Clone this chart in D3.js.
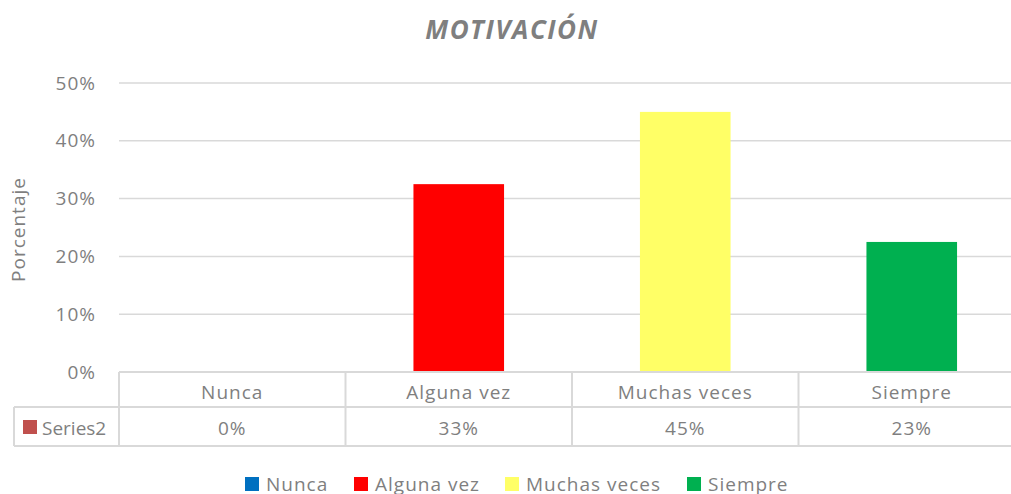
<!DOCTYPE html>
<html>
<head>
<meta charset="utf-8">
<script src="https://cdn.jsdelivr.net/npm/d3@7"></script>
<style>
  body { margin: 0; background: #fff; }
  svg text { font-family: "Open Sans", sans-serif; fill: #7f7f7f; font-size: 19px; letter-spacing: 1px; }
</style>
</head>
<body>
<svg id="chart" width="1011" height="494"></svg>
<script>
// data
var categories = ['Nunca', 'Alguna vez', 'Muchas veces', 'Siempre'];
var values = [0, 0.325, 0.45, 0.225];
var barColors = ['#0070c0', '#ff0000', '#ffff66', '#00b050'];
var yTicks = [0, 0.1, 0.2, 0.3, 0.4, 0.5];
var seriesName = 'Series2';
var titleText = 'MOTIVACIÓN';
var yTitle = 'Porcentaje';

var svg = d3.select('#chart');
var gridColor = '#d9d9d9';

var plot = { left: 119, right: 1025, top: 83, bottom: 372 };
var rowMid = 407, rowBottom = 446, tableLeft = 14;

var y = d3.scaleLinear().domain([0, 0.5]).range([plot.bottom, plot.top]);
var x = d3.scaleBand().domain(categories).range([plot.left, plot.right])
  .paddingInner(0.6).paddingOuter(0.3);
// columns of the data table
var xCol = d3.scaleBand().domain(categories).range([plot.left, plot.right]);

// title
svg.append('text')
  .attr('x', 512).attr('y', 39)
  .attr('text-anchor', 'middle')
  .style('font-size', '26px')
  .style('letter-spacing', '1.5px')
  .style('font-weight', 'bold')
  .style('font-style', 'italic')
  .text(titleText);

// gridlines
svg.append('g').selectAll('line')
  .data(yTicks.filter(function(d){ return d > 0; }))
  .join('line')
  .attr('x1', plot.left).attr('x2', plot.right)
  .attr('y1', function(d){ return y(d); })
  .attr('y2', function(d){ return y(d); })
  .attr('stroke', gridColor).attr('stroke-width', 1.5);

// y axis labels
var yAxis = d3.axisLeft(y).tickValues(yTicks).tickFormat(d3.format('.0%')).tickSize(0).tickPadding(23);
var gy = svg.append('g').attr('transform', 'translate(' + plot.left + ',0)').call(yAxis);
gy.select('.domain').remove();
gy.attr('font-size', null).attr('font-family', null);
gy.selectAll('text').attr('fill', '#7f7f7f');

// axis title
svg.append('text')
  .attr('transform', 'translate(25,' + ((plot.top + plot.bottom) / 2 + 2) + ') rotate(-90)')
  .attr('text-anchor', 'middle')
  .text(yTitle);

// bars
svg.append('g').selectAll('rect')
  .data(values)
  .join('rect')
  .attr('x', function(d, i){ return x(categories[i]); })
  .attr('width', x.bandwidth())
  .attr('y', function(d){ return y(d); })
  .attr('height', function(d){ return y(0) - y(d); })
  .attr('fill', function(d, i){ return barColors[i]; });

// data table
var table = svg.append('g').attr('stroke', gridColor).attr('stroke-width', 2);
table.append('line').attr('x1', plot.left).attr('x2', plot.right).attr('y1', plot.bottom).attr('y2', plot.bottom);
table.append('line').attr('x1', tableLeft).attr('x2', plot.right).attr('y1', rowMid).attr('y2', rowMid);
table.append('line').attr('x1', tableLeft).attr('x2', plot.right).attr('y1', rowBottom).attr('y2', rowBottom);
table.append('line').attr('x1', tableLeft).attr('x2', tableLeft).attr('y1', rowMid).attr('y2', rowBottom);
table.selectAll('.vline')
  .data(categories.concat(['end']))
  .join('line')
  .attr('class', 'vline')
  .attr('x1', function(d){ return d === 'end' ? plot.right : xCol(d); })
  .attr('x2', function(d){ return d === 'end' ? plot.right : xCol(d); })
  .attr('y1', plot.bottom).attr('y2', rowBottom);

svg.append('g').selectAll('text')
  .data(categories)
  .join('text')
  .attr('x', function(d){ return xCol(d) + xCol.bandwidth() / 2; })
  .attr('y', 399)
  .attr('text-anchor', 'middle')
  .text(function(d){ return d; });

svg.append('g').selectAll('text')
  .data(values)
  .join('text')
  .attr('x', function(d, i){ return xCol(categories[i]) + xCol.bandwidth() / 2; })
  .attr('y', 435)
  .attr('text-anchor', 'middle')
  .text(function(d){ return Math.round(d * 100) + '%'; });

svg.append('rect').attr('x', 23).attr('y', 420).attr('width', 14).attr('height', 14).attr('fill', '#c0504d');
svg.append('text').attr('x', 42).attr('y', 435).style('letter-spacing', '0px').text(seriesName);

// legend
var legendX = [245, 354, 505, 687];
var legend = svg.append('g').selectAll('g')
  .data(categories)
  .join('g')
  .attr('transform', function(d, i){ return 'translate(' + legendX[i] + ',477)'; });
legend.append('rect').attr('width', 14).attr('height', 14)
  .attr('fill', function(d, i){ return barColors[i]; });
legend.append('text').attr('x', 21).attr('y', 14)
  .text(function(d){ return d; });
</script>
</body>
</html>
